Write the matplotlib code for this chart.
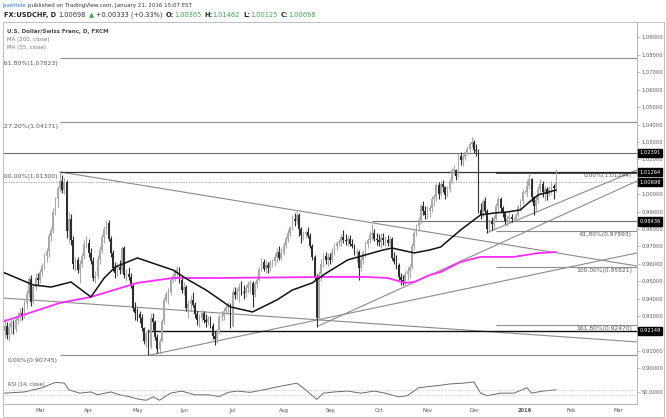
import matplotlib
matplotlib.use('Agg')
import matplotlib.pyplot as plt
from matplotlib.transforms import IdentityTransform
from matplotlib.patches import Rectangle
import numpy as np
import pandas as pd

# ---------------- data (daily bars, 2015-02-05 .. 2016-01-21) ----------------
opens = [
 0.9250,0.9215,0.9245,0.9190,0.9235,0.9265,0.9225,0.9280,0.9300,0.9320,0.9305,0.9375,0.9425,0.9515,0.9380,0.9465,0.9520,
 0.9505,0.9555,0.9590,0.9645,0.9675,0.9760,0.9795,0.9900,0.9970,1.0035,1.0075,1.0025,1.0070,0.9790,0.9860,0.9735,0.9600,0.9620,0.9565,0.9600,0.9645,0.9715,
 0.9720,0.9660,0.9615,0.9520,0.9530,0.9630,0.9680,0.9755,0.9800,0.9835,0.9745,0.9660,0.9575,0.9545,0.9580,0.9565,0.9690,0.9535,0.9540,0.9525,0.9475,0.9345,
 0.9320,0.9310,0.9290,0.9230,0.9160,0.9200,0.9125,0.9290,0.9265,0.9180,0.9110,0.9160,0.9270,0.9395,0.9425,0.9440,0.9505,0.9530,0.9555,0.9570,0.9505,
 0.9450,0.9470,0.9345,0.9370,0.9395,0.9365,0.9310,0.9275,0.9290,0.9320,0.9275,0.9265,0.9285,0.9245,0.9185,0.9170,0.9205,0.9295,0.9300,0.9330,0.9350,0.9365,
 0.9245,0.9440,0.9420,0.9445,0.9470,0.9440,0.9430,0.9460,0.9485,0.9490,0.9420,0.9485,0.9510,0.9570,0.9610,0.9570,0.9595,0.9575,0.9610,0.9615,0.9640,0.9670,0.9635,
 0.9660,0.9710,0.9745,0.9780,0.9810,0.9860,0.9845,0.9880,0.9800,0.9765,0.9770,0.9785,0.9760,0.9705,0.9640,0.9525,0.9290,0.9540,0.9600,0.9645,0.9625,
 0.9640,0.9625,0.9670,0.9705,0.9720,0.9725,0.9755,0.9740,0.9730,0.9745,0.9715,0.9700,0.9665,0.9670,0.9575,0.9625,0.9660,0.9715,0.9740,0.9765,0.9780,0.9745,
 0.9740,0.9725,0.9750,0.9735,0.9740,0.9720,0.9745,0.9635,0.9610,0.9595,0.9525,0.9505,0.9495,0.9540,0.9560,0.9585,0.9700,0.9780,0.9820,0.9850,0.9930,0.9905,
 0.9880,0.9905,0.9920,0.9975,0.9985,1.0055,1.0000,1.0060,1.0040,0.9995,1.0030,1.0075,1.0140,1.0140,1.0105,1.0220,1.0195,1.0215,1.0240,1.0260,1.0290,
 1.0300,1.0255,1.0250,0.9910,0.9880,0.9960,0.9905,0.9800,0.9845,0.9830,0.9860,0.9935,0.9970,0.9920,0.9890,0.9845,0.9860,0.9870,0.9855,0.9860,0.9880,0.9925,0.9960,
 1.0010,1.0015,1.0045,1.0085,0.9985,0.9935,0.9965,1.0030,1.0060,1.0010,1.0030,1.0000,1.0035,1.0045,1.00365]
highs = [
 0.9290,0.9290,0.9265,0.9260,0.9290,0.9275,0.9300,0.9325,0.9345,0.9350,0.9390,0.9450,0.9530,0.9535,0.9480,0.9545,0.9550,
 0.9570,0.9605,0.9660,0.9690,0.9780,0.9810,0.9920,0.9985,1.0050,1.0129,1.0110,1.0095,1.0080,0.9900,0.9885,0.9760,0.9640,0.9640,0.9625,0.9665,0.9735,0.9760,
 0.9745,0.9690,0.9640,0.9560,0.9650,0.9700,0.9770,0.9820,0.9850,0.9850,0.9760,0.9680,0.9610,0.9605,0.9620,0.9700,0.9705,0.9570,0.9580,0.9545,0.9490,0.9380,
 0.9345,0.9330,0.9310,0.9240,0.9215,0.9225,0.9320,0.9320,0.9275,0.9195,0.9175,0.9285,0.9410,0.9445,0.9460,0.9520,0.9545,0.9570,0.9590,0.9580,0.9520,
 0.9495,0.9480,0.9390,0.9420,0.9440,0.9380,0.9330,0.9310,0.9335,0.9330,0.9310,0.9300,0.9300,0.9260,0.9215,0.9220,0.9310,0.9330,0.9345,0.9365,0.9380,0.9375,
 0.9460,0.9470,0.9460,0.9490,0.9500,0.9480,0.9480,0.9500,0.9510,0.9500,0.9500,0.9530,0.9585,0.9635,0.9630,0.9620,0.9610,0.9625,0.9630,0.9660,0.9690,0.9700,0.9690,
 0.9725,0.9760,0.9800,0.9820,0.9880,0.9890,0.9903,0.9895,0.9810,0.9790,0.9795,0.9810,0.9775,0.9715,0.9650,0.9540,0.9560,0.9630,0.9660,0.9670,0.9660,
 0.9660,0.9690,0.9720,0.9730,0.9745,0.9770,0.9792,0.9770,0.9760,0.9765,0.9745,0.9715,0.9690,0.9680,0.9640,0.9680,0.9730,0.9750,0.9790,0.9830,0.9800,0.9775,
 0.9770,0.9780,0.9775,0.9760,0.9765,0.9760,0.9755,0.9670,0.9650,0.9605,0.9545,0.9535,0.9560,0.9580,0.9600,0.9720,0.9800,0.9830,0.9870,0.9945,0.9960,0.9930,
 0.9930,0.9940,0.9990,1.0000,1.0065,1.0070,1.0075,1.0080,1.0050,1.0045,1.0090,1.0150,1.0165,1.0145,1.0235,1.0245,1.0230,1.0250,1.0275,1.0300,1.0327,
 1.0310,1.0290,1.0260,0.9950,0.9975,0.9985,0.9915,0.9860,0.9870,0.9880,0.9950,0.9990,0.9985,0.9935,0.9900,0.9880,0.9900,0.9885,0.9870,0.9895,0.9940,0.9975,1.0030,
 1.0025,1.0080,1.0124,1.0095,0.9990,0.9990,1.0045,1.0085,1.0075,1.0050,1.0040,1.0050,1.0075,1.0060,1.01462]
lows = [
 0.9200,0.9175,0.9170,0.9160,0.9200,0.9200,0.9210,0.9255,0.9270,0.9275,0.9290,0.9345,0.9410,0.9360,0.9370,0.9450,0.9480,
 0.9490,0.9530,0.9570,0.9610,0.9640,0.9730,0.9780,0.9880,0.9925,1.0010,1.0005,1.0000,0.9750,0.9720,0.9710,0.9570,0.9560,0.9545,0.9490,0.9580,0.9630,0.9690,
 0.9640,0.9600,0.9500,0.9490,0.9515,0.9600,0.9660,0.9720,0.9770,0.9730,0.9640,0.9560,0.9520,0.9530,0.9540,0.9550,0.9520,0.9500,0.9510,0.9460,0.9330,0.9280,
 0.9270,0.9260,0.9215,0.9140,0.9120,0.9075,0.9110,0.9220,0.9165,0.9090,0.9085,0.9150,0.9255,0.9380,0.9370,0.9420,0.9490,0.9500,0.9520,0.9490,0.9430,
 0.9420,0.9330,0.9290,0.9330,0.9350,0.9290,0.9250,0.9240,0.9270,0.9260,0.9240,0.9250,0.9230,0.9170,0.9135,0.9145,0.9195,0.9270,0.9280,0.9310,0.9320,0.9230,
 0.9240,0.9400,0.9400,0.9380,0.9420,0.9400,0.9410,0.9430,0.9440,0.9355,0.9410,0.9460,0.9500,0.9560,0.9560,0.9550,0.9550,0.9560,0.9580,0.9590,0.9610,0.9620,0.9620,
 0.9650,0.9690,0.9725,0.9760,0.9795,0.9820,0.9830,0.9760,0.9720,0.9740,0.9750,0.9750,0.9690,0.9620,0.9510,0.9240,0.9280,0.9500,0.9580,0.9600,0.9590,
 0.9600,0.9610,0.9650,0.9680,0.9700,0.9700,0.9720,0.9710,0.9700,0.9700,0.9690,0.9650,0.9610,0.9510,0.9560,0.9600,0.9640,0.9690,0.9720,0.9740,0.9730,0.9710,
 0.9700,0.9690,0.9710,0.9700,0.9700,0.9700,0.9620,0.9600,0.9570,0.9510,0.9476,0.9480,0.9480,0.9510,0.9520,0.9570,0.9680,0.9760,0.9790,0.9830,0.9880,0.9860,
 0.9855,0.9870,0.9900,0.9935,0.9960,0.9975,0.9990,1.0010,0.9970,0.9985,1.0010,1.0065,1.0110,1.0080,1.0100,1.0170,1.0160,1.0195,1.0225,1.0240,1.0270,
 1.0235,1.0220,0.9890,0.9855,0.9870,0.9890,0.9780,0.9785,0.9795,0.9800,0.9850,0.9900,0.9900,0.9870,0.9830,0.9820,0.9840,0.9840,0.9845,0.9840,0.9870,0.9905,0.9945,
 1.0000,0.9985,1.0030,0.9955,0.9880,0.9900,0.9950,1.0000,0.9985,0.9960,0.9965,0.9990,1.0000,0.9970,1.00125]
closes = [
 0.9215,0.9245,0.9190,0.9235,0.9265,0.9225,0.9280,0.9300,0.9320,0.9305,0.9375,0.9425,0.9515,0.9380,0.9465,0.9520,0.9505,
 0.9555,0.9590,0.9645,0.9675,0.9760,0.9795,0.9900,0.9970,1.0035,1.0075,1.0025,1.0070,0.9790,0.9860,0.9735,0.9600,0.9620,0.9565,0.9600,0.9645,0.9715,0.9720,
 0.9660,0.9615,0.9520,0.9530,0.9630,0.9680,0.9755,0.9800,0.9835,0.9745,0.9660,0.9575,0.9545,0.9580,0.9565,0.9690,0.9535,0.9540,0.9525,0.9475,0.9345,0.9320,
 0.9310,0.9290,0.9230,0.9160,0.9200,0.9125,0.9290,0.9265,0.9180,0.9110,0.9160,0.9270,0.9395,0.9425,0.9440,0.9505,0.9530,0.9555,0.9570,0.9505,0.9450,
 0.9470,0.9345,0.9370,0.9395,0.9365,0.9310,0.9275,0.9290,0.9320,0.9275,0.9265,0.9285,0.9245,0.9185,0.9170,0.9205,0.9295,0.9300,0.9330,0.9350,0.9365,0.9245,
 0.9440,0.9420,0.9445,0.9470,0.9440,0.9430,0.9460,0.9485,0.9490,0.9420,0.9485,0.9510,0.9570,0.9610,0.9570,0.9595,0.9575,0.9610,0.9615,0.9640,0.9670,0.9635,0.9660,
 0.9710,0.9745,0.9780,0.9810,0.9860,0.9845,0.9880,0.9800,0.9765,0.9770,0.9785,0.9760,0.9705,0.9640,0.9525,0.9290,0.9540,0.9600,0.9645,0.9625,0.9640,
 0.9625,0.9670,0.9705,0.9720,0.9725,0.9755,0.9740,0.9730,0.9745,0.9715,0.9700,0.9665,0.9670,0.9575,0.9625,0.9660,0.9715,0.9740,0.9765,0.9780,0.9745,0.9740,
 0.9725,0.9750,0.9735,0.9740,0.9720,0.9745,0.9635,0.9610,0.9595,0.9525,0.9505,0.9495,0.9540,0.9560,0.9585,0.9700,0.9780,0.9820,0.9850,0.9930,0.9905,0.9880,
 0.9905,0.9920,0.9975,0.9985,1.0055,1.0000,1.0060,1.0040,0.9995,1.0030,1.0075,1.0140,1.0140,1.0105,1.0220,1.0195,1.0215,1.0240,1.0260,1.0290,1.0300,
 1.0255,1.0250,0.9910,0.9880,0.9960,0.9905,0.9800,0.9845,0.9830,0.9860,0.9935,0.9970,0.9920,0.9890,0.9845,0.9860,0.9870,0.9855,0.9860,0.9880,0.9925,0.9960,1.0010,
 1.0015,1.0045,1.0085,0.9985,0.9935,0.9965,1.0030,1.0060,1.0010,1.0030,1.0000,1.0035,1.0045,1.0037,1.00698]

# moving averages (bar number, price)
ma55_bar = [0, 14, 22, 31, 40, 46, 51, 61, 77, 84, 92, 103, 113, 124, 131, 140, 146, 156, 172, 176, 186, 193, 198, 207, 216, 222, 228, 234, 238, 242, 250]
ma55_val = [0.9554, 0.9479, 0.9467, 0.9496, 0.9410, 0.9519, 0.9582, 0.9634, 0.9565, 0.9508, 0.9450, 0.9353, 0.9324, 0.9393, 0.9450,
            0.9491, 0.9545, 0.9623, 0.9680, 0.9691, 0.9663, 0.9680, 0.9697, 0.9795, 0.9881, 0.9892, 0.9898, 0.9910, 0.9955, 0.9996, 1.0024]
ma200_bar = [0, 26, 40, 46, 61, 77, 98, 146, 164, 174, 182, 186, 193, 198, 207, 216, 231, 242, 250]
ma200_val = [0.9267, 0.9376, 0.9410, 0.9433, 0.9491, 0.9519, 0.9519, 0.9525, 0.9525, 0.9519, 0.9491, 0.9496, 0.9536, 0.9553,
             0.9611, 0.9640, 0.9640, 0.9662, 0.9668]
# RSI(14)
rsi_bar = [1, 10, 18, 24, 28, 30, 35, 40, 43, 49, 53, 57, 62, 65, 68, 71, 76, 81, 87, 93, 98, 102, 106, 112, 118, 125, 131, 133,
           137, 142, 145, 150, 156, 162, 168, 173, 179, 183, 188, 193, 198, 202, 208, 213, 216, 219, 225, 231, 237, 239, 244, 250]
rsi_val = [48, 51, 61, 74, 72, 56, 48, 51, 44, 51, 44, 40, 33, 31, 39, 31, 48, 53, 44, 44, 40, 50, 53, 50, 56, 64, 70, 72,
           56, 33, 48, 51, 53, 48, 53, 48, 39, 42, 61, 64, 67, 70, 72, 75, 48, 42, 48, 48, 61, 48, 53, 56]

# drawings: trend lines (bar, price) pairs
trend_lines = [((26, 1.0128), (286.65, 0.9588)),
               ((0.29, 0.9404), (286.65, 0.9152)),
               ((66, 0.9075), (286.65, 0.9663)),
               ((143, 0.9245), (286.65, 1.0076)),
               ((219, 0.9780), (286.65, 1.0139))]
# horizontal levels: (start bar, price, colour, width)
levels = [(26, 1.07823, '#8c8c8c', 0.8), (26, 1.04171, '#8c8c8c', 0.8), (0, 1.02391, '#6e6e6e', 0.8),
          (26, 1.01264, '#333333', 0.9), (167, 0.98436, '#6e6e6e', 0.8), (66, 0.92149, '#111111', 1.0),
          (26, 0.90745, '#8c8c8c', 0.8),
          (223, 1.01244, '#222222', 1.1), (223, 0.97893, '#8c8c8c', 0.8), (223, 0.95821, '#8c8c8c', 0.8),
          (223, 0.92470, '#8c8c8c', 0.8)]
fib_left = [(1.07823, '161.80%(1.07823)'), (1.04171, '127.20%(1.04171)'), (1.01300, '100.00%(1.01300)'), (0.90745, '0.00%(0.90745)')]
fib_right = [(1.01244, '0.00%(1.01244)'), (0.97893, '61.80%(0.97893)'), (0.95821, '100.00%(0.95821)'), (0.92470, '161.80%(0.92470)')]
price_boxes = [1.02391, 1.01264, 1.00698, 0.98436, 0.92149]
last_price = 1.00698

# ---------------- figure ----------------
W, H = 666, 418
fig = plt.figure(figsize=(W / 100, H / 100), dpi=100)
fig.patch.set_facecolor('white')

def rect(l, t, r, b):
    return [l / W, 1 - b / H, (r - l) / W, (b - t) / H]

ax = fig.add_axes(rect(3, 22, 637, 379))
axr = fig.add_axes(rect(3, 379, 637, 404), sharex=ax)

n = len(closes)
assert len(opens) == len(highs) == len(lows) == n
x = np.arange(n)
o = np.array(opens); h = np.array(highs); l = np.array(lows); c = np.array(closes)
up = c >= o
up_col, dn_col = '#a9a9a9', '#2e2e2e'
cols = np.where(up, up_col, dn_col)
ax.vlines(x, l, h, colors=cols, lw=0.8, zorder=3)
body_lo = np.minimum(o, c)
body_h = np.maximum(np.abs(c - o), 0.0003)
ax.bar(x, body_h, bottom=body_lo, width=0.78, color=cols, linewidth=0, zorder=3)

ax.plot(ma200_bar, ma200_val, color='#ff2bff', lw=1.3, zorder=4)
ax.plot(ma55_bar, ma55_val, color='#111111', lw=1.1, zorder=4)

x0, x1 = 0.29, 286.65
for (a, b) in trend_lines:
    ax.plot([a[0], b[0]], [a[1], b[1]], color='#8a8a8a', lw=0.8, zorder=2)
for (s, p, col, lw) in levels:
    ax.plot([s, x1], [p, p], color=col, lw=lw, zorder=2, solid_capstyle='butt')
ax.plot([x0, x1], [last_price, last_price], color='#9a9a9a', lw=0.6, ls=(0, (1.5, 1.5)), zorder=2)

for p, s in fib_left:
    ax.annotate(s, xy=(25.1, p), xytext=(0, -2.0), textcoords='offset points', ha='right', va='top',
                fontsize=4.5, color='#555555', annotation_clip=False, clip_on=True, zorder=5)
for p, s in fib_right:
    ax.annotate(s, xy=(284.4, p), xytext=(0, -0.6), textcoords='offset points', ha='right', va='top',
                fontsize=4.3, color='#555555', zorder=5)

ax.set_xlim(x0, x1)
ax.set_ylim(0.8939, 1.0989)
yt = [round(0.90 + 0.01 * k, 2) for k in range(20)]
ax.yaxis.tick_right()
ax.set_yticks(yt)
ax.set_yticklabels(['' if v in (1.01, 0.92) else f'{v:.5f}' for v in yt])
ax.tick_params(axis='y', labelsize=3.7, labelcolor='#555555', length=2, width=0.5, color='#aaaaaa', pad=1)
ax.tick_params(axis='x', bottom=False, labelbottom=False)
for sp in ['top', 'left']:
    ax.spines[sp].set_visible(False)
ax.spines['right'].set_color('#b5b5b5'); ax.spines['right'].set_linewidth(0.7)
ax.spines['bottom'].set_color('#b5b5b5'); ax.spines['bottom'].set_linewidth(0.7)

for v in price_boxes:
    ax.annotate(f'{v:.5f}', xy=(1, v), xycoords=('axes fraction', 'data'), xytext=(1.6, 0),
                textcoords='offset points', ha='left', va='center', fontsize=3.7, color='white',
                bbox=dict(boxstyle='square,pad=0.3', fc='black', ec='black'), annotation_clip=False, zorder=10)

# RSI pane
axr.plot(rsi_bar, rsi_val, color='#6a6a6a', lw=0.7)
axr.axhline(56, color='#aaaaaa', lw=0.5, ls=(0, (1, 1.5)))
axr.axhline(44, color='#aaaaaa', lw=0.5, ls=(0, (1, 1.5)))
axr.set_ylim(22, 82)
axr.yaxis.tick_right()
axr.set_yticks([50])
axr.set_yticklabels(['50.0000'])
axr.tick_params(axis='y', labelsize=3.7, labelcolor='#555555', length=2, width=0.5, color='#aaaaaa', pad=1)
for sp in ['top', 'left']:
    axr.spines[sp].set_visible(False)
for sp in ['right', 'bottom']:
    axr.spines[sp].set_color('#b5b5b5'); axr.spines[sp].set_linewidth(0.7)

all_dates = pd.bdate_range('2015-02-05', '2016-03-31')
first = pd.Series(np.arange(len(all_dates)), index=all_dates).groupby([all_dates.year, all_dates.month]).first()
tick_pos, tick_lab = [], []
for (yy, mm), pos in first.items():
    if (yy, mm) < (2015, 3):
        continue
    tick_pos.append(pos)
    tick_lab.append(str(yy) if mm == 1 else pd.Timestamp(year=yy, month=mm, day=1).strftime('%b'))
axr.set_xticks(tick_pos)
axr.set_xticklabels(tick_lab)
axr.tick_params(axis='x', labelsize=3.7, labelcolor='#555555', length=0, pad=3)
for t in axr.get_xticklabels():
    if t.get_text() == '2016':
        t.set_fontweight('bold')
axr.set_xlim(x0, x1)

axr.text(0.008, 0.88, 'RSI (14, close)', transform=axr.transAxes, fontsize=3.7, color='#555555', va='top')

# outer frame
fig.patches.append(Rectangle((3, 1), 661, 418 - 22 - 1, transform=IdentityTransform(), fill=False,
                             ec='#bdbdbd', lw=0.7))

# header & legend texts (pixel positions)
rend = fig.canvas.get_renderer()
def seq(xp, yp, parts, size):
    for s, col, wt, gap in parts:
        t = fig.text(xp, H - yp, s, transform=IdentityTransform(), fontsize=size, color=col, fontweight=wt,
                     va='center', ha='left')
        xp = t.get_window_extent(renderer=rend).x1 + gap

seq(2, 6, [('jsaettele', '#2d7bd4', 'normal', 2.2),
           ('published on TradingView.com, January 21, 2016 15:07 EST', '#333333', 'normal', 0)], 3.95)
g = '#3aa94a'
seq(4, 15, [('FX:USDCHF, D', '#222222', 'bold', 2.6), ('1.00698', '#333333', 'normal', 2.4), ('\u25b2', g, 'normal', 2.4),
            ('+0.00333 (+0.33%)', '#333333', 'normal', 3.0),
            ('O:', '#222222', 'bold', 0), ('1.00365', g, 'normal', 3.0),
            ('H:', '#222222', 'bold', 0), ('1.01462', g, 'normal', 3.0),
            ('L:', '#222222', 'bold', 0), ('1.00125', g, 'normal', 3.0),
            ('C:', '#222222', 'bold', 0), ('1.00698', g, 'normal', 0)], 4.75)
fig.text(7 / W, 1 - 31 / H, 'U.S. Dollar/Swiss Franc, D, FXCM', fontsize=4.0, color='#444444', fontweight='bold', va='center')
fig.text(7 / W, 1 - 39.5 / H, 'MA (200, close)', fontsize=4.0, color='#777777', va='center')
fig.text(7 / W, 1 - 48 / H, 'MA (55, close)', fontsize=4.0, color='#777777', va='center')

fig.savefig('out.png', dpi=100, facecolor='white')
